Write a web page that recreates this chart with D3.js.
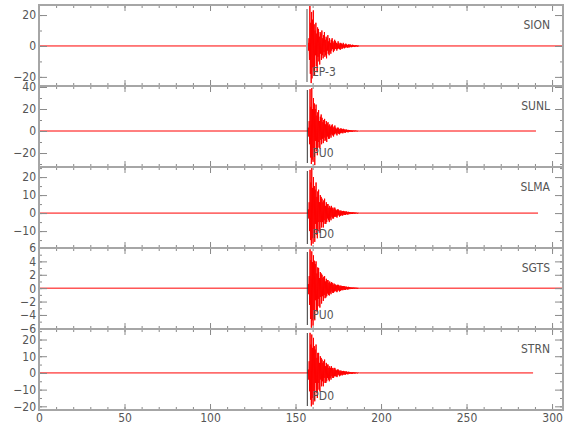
<!DOCTYPE html>
<html>
<head>
<meta charset="utf-8">
<script src="https://cdn.jsdelivr.net/npm/d3@7"></script>
<style>
  body { margin: 0; background: #fff; }
  text { font-family: "Liberation Sans Narrow", "DejaVu Sans Condensed", "Liberation Sans", sans-serif; }
</style>
</head>
<body>
<div id="chart"></div>
<script>
////////////////////////////////////////////////////////////
///////////////////////// Data /////////////////////////////
////////////////////////////////////////////////////////////

var stations = ["SION", "SUNL", "SLMA", "SGTS", "STRN"];
var pickNames = ["EP-3", "PU0", "PD0", "PU0", "PD0"];
var pickTimes = [156.7, 156.9, 156.9, 156.9, 156.9];
var onsets = [157.4, 157.5, 157.5, 157.5, 157.5];
var traceEnds = [306.4, 290.6, 291.8, 306.4, 288.9];
var yMins = [-25.9, -32.7, -19.4, -6.1, -22.2];
var yMaxs = [26.5, 40.9, 25.6, 6.0, 26.3];
var yMajorSteps = [20, 20, 10, 2, 10];
var yMinorSteps = [10, 10, 5, 1, 5];
var xMajorTicks = [0, 50, 100, 150, 200, 250, 300];
var xMax = 306.4;
var sampleDt = 0.25;

// Samples after the onset (one every 0.25 s)
var sionAmp = [2, -3, 5, -9, 26, -18, 15, -24, 22, -21, 17, -14, 23, -16, 14, -19,
    10, -6, 15, -13, 8, -17, 12, -7, 11, -10, 6, -12, 9, -5, 8, -9,
    10, -6, 5, -8, 7, -4, 9, -7, 4, -6, 6, -8, 5, -3, 7, -5,
    3, -6, 5, -4, 2, -5, 4, -3, 5, -2, 3, -4, 2, -3, 4, -2,
    3, -2, 2, -3, 1.5, -2, 3, -1.5, 2, -2, 1, -2.5, 2, -1, 1.5, -2,
    1, -1.5, 2, -1, 1, -1.5, 0.8, -1, 1.5, -0.8, 1, -1, 0.6, -1.2, 1, -0.7, 0.8, -0.9, 1, -0.5,
    0.7, -0.8, 0.5, -0.7, 0.8, -0.4, 0.6, -0.6, 0.4, -0.7, 0.5, -0.4, 0.6, -0.3, 0.4, -0.5, 0.3, -0.4, 0.3, -0.2];
var sunlAmp = [3, -5, 9, -12, 38, -24, 22, -30, 39, -26, 20, -28, 30, -17, 25, -31,
    20, -9, 24, -18, 14, -22, 17, -10, 19, -15, 9, -16, 13, -8, 15, -12,
    12, -7, 8, -11, 10, -6, 11, -9, 6, -8, 9, -10, 7, -5, 8, -7,
    5, -7, 6, -4, 4, -6, 5, -3, 6, -4, 3, -5, 4, -3, 5, -2,
    3, -3, 2, -4, 3, -2, 3, -2.5, 2, -3, 1.5, -2, 2.5, -1.5, 2, -2,
    1.5, -2, 2, -1, 1.5, -1.5, 1, -1.5, 1.5, -0.8, 1.2, -1, 0.8, -1.2, 1, -0.6, 0.9, -0.8, 0.7, -0.6,
    0.8, -0.6, 0.5, -0.7, 0.6, -0.4, 0.5, -0.5, 0.4, -0.5, 0.5, -0.3, 0.4, -0.4, 0.3, -0.4, 0.3, -0.3, 0.2, -0.2];
var slmaAmp = [2, -3, 6, -10, 24, -15, 17, -18, 25, -14, 14, -17, 20, -11, 15, -16,
    13, -6, 17, -12, 9, -14, 12, -5, 13, -10, 6, -11, 10, -5, 9, -8,
    8, -5, 6, -8, 7, -4, 8, -6, 4, -6, 6, -5, 5, -3, 5, -4,
    3, -5, 4, -3, 3, -4, 4, -2, 3, -3, 2, -3, 3, -2, 3, -2,
    2, -2, 1.5, -2.5, 2, -1.5, 2, -1, 1.5, -2, 1, -1.5, 1.5, -1, 1, -1.5,
    1, -1.2, 1.2, -0.8, 1, -1, 0.7, -1, 1, -0.6, 0.8, -0.8, 0.5, -0.8, 0.7, -0.5, 0.6, -0.6, 0.5, -0.4,
    0.5, -0.5, 0.4, -0.5, 0.5, -0.3, 0.4, -0.4, 0.3, -0.4, 0.3, -0.3, 0.3, -0.2, 0.2, -0.3, 0.2, -0.2, 0.2, -0.1];
var sgtsAmp = [0.6, -0.9, 1.8, -2.5, 5.8, -4.6, 4.2, -5.9, 5.5, -4.8, 3.9, -5.6, 4.9, -3.4, 4.1, -4.8,
    3.6, -1.8, 4.0, -3.3, 2.2, -3.6, 3.1, -1.6, 3.0, -2.7, 1.5, -2.9, 2.4, -1.3, 2.2, -2.3,
    2.0, -1.2, 1.5, -1.9, 1.7, -1.0, 1.8, -1.5, 1.0, -1.4, 1.4, -1.2, 1.2, -0.8, 1.2, -1.0,
    0.8, -1.1, 1.0, -0.7, 0.7, -0.9, 0.9, -0.5, 0.8, -0.7, 0.5, -0.7, 0.7, -0.5, 0.6, -0.4,
    0.5, -0.5, 0.4, -0.6, 0.5, -0.4, 0.5, -0.3, 0.4, -0.5, 0.3, -0.4, 0.4, -0.3, 0.3, -0.3,
    0.3, -0.3, 0.3, -0.2, 0.3, -0.25, 0.2, -0.25, 0.25, -0.15, 0.2, -0.2, 0.15, -0.2, 0.2, -0.12, 0.15, -0.15, 0.12, -0.1,
    0.12, -0.12, 0.1, -0.12, 0.1, -0.08, 0.1, -0.1, 0.08, -0.1, 0.08, -0.06, 0.08, -0.08, 0.06, -0.08, 0.06, -0.05, 0.05, -0.04];
var strnAmp = [2, -4, 7, -11, 24, -16, 17, -20, 23, -15, 15, -19, 21, -12, 16, -17,
    14, -6, 17, -12, 9, -15, 12, -6, 12, -10, 6, -11, 10, -4, 9, -8,
    8, -5, 6, -8, 7, -3, 8, -6, 4, -6, 6, -5, 5, -3, 5, -4,
    3, -5, 4, -3, 3, -4, 4, -2, 3, -3, 2, -3, 3, -2, 3, -2,
    2, -2, 1.5, -2.5, 2, -1.5, 2, -1, 1.5, -2, 1, -1.5, 1.5, -1, 1, -1.5,
    1, -1.2, 1.2, -0.8, 1, -1, 0.7, -1, 1, -0.6, 0.8, -0.8, 0.5, -0.8, 0.7, -0.5, 0.6, -0.6, 0.5, -0.4,
    0.5, -0.5, 0.4, -0.5, 0.5, -0.3, 0.4, -0.4, 0.3, -0.4, 0.3, -0.3, 0.3, -0.2, 0.2, -0.3, 0.2, -0.2, 0.2, -0.1];
var amplitudes = [sionAmp, sunlAmp, slmaAmp, sgtsAmp, strnAmp];

////////////////////////////////////////////////////////////
//////////////////////// Set-up ////////////////////////////
////////////////////////////////////////////////////////////

var margin = { left: 39, top: 5, right: 17, bottom: 30 },
    width = 580 - margin.left - margin.right,
    panelH = 81;

var svg = d3.select("#chart").append("svg")
    .attr("width", 580)
    .attr("height", 440);

var x = d3.scaleLinear().domain([0, xMax]).range([margin.left, margin.left + width]);
var xMinorTicks = d3.range(0, xMax, 10);

var frameColor = "#a6a6a6",
    tickColor = "#8a8a8a",
    textColor = "#555";

//Strip the default domain path and restyle an axis
function styleAxis(g, fontSize) {
    g.select(".domain").remove();
    g.attr("color", tickColor).attr("font-family", null).attr("font-size", fontSize);
    g.selectAll("text").attr("fill", textColor);
}

////////////////////////////////////////////////////////////
/////////////////////// Panels /////////////////////////////
////////////////////////////////////////////////////////////

stations.forEach(function (name, i) {
    var top = margin.top + i * panelH,
        bottom = top + panelH;

    var y = d3.scaleLinear().domain([yMins[i], yMaxs[i]]).range([bottom, top]);

    var majors = d3.range(Math.ceil(yMins[i] / yMajorSteps[i]) * yMajorSteps[i], yMaxs[i] + 1e-9, yMajorSteps[i]);
    var minors = d3.range(Math.ceil(yMins[i] / yMinorSteps[i]) * yMinorSteps[i], yMaxs[i] + 1e-9, yMinorSteps[i]);

    var g = svg.append("g").attr("class", "panel");

    //The trace: flat before the onset, the recorded samples, flat to the end
    var pts = [[0, 0], [onsets[i], 0]];
    amplitudes[i].forEach(function (v, k) { pts.push([onsets[i] + k * sampleDt, v]); });
    pts.push([onsets[i] + amplitudes[i].length * sampleDt, 0]);
    pts.push([traceEnds[i], 0]);

    var line = d3.line()
        .x(function (d) { return x(d[0]); })
        .y(function (d) { return y(d[1]); });

    g.append("path")
        .attr("d", line(pts))
        .style("fill", "none")
        .style("stroke", "#ff0000")
        .style("stroke-width", 1);

    //Pick marker
    g.append("line")
        .attr("x1", x(pickTimes[i])).attr("x2", x(pickTimes[i]))
        .attr("y1", top + 4).attr("y2", bottom - 4)
        .style("stroke", i === 0 ? "#a8a8a8" : "#333")
        .style("stroke-width", i === 0 ? 2 : 1);

    g.append("text")
        .attr("x", x(pickTimes[i]) + 5)
        .attr("y", top + 71)
        .attr("font-size", 12)
        .style("fill", textColor)
        .text(pickNames[i]);

    //Station name
    g.append("text")
        .attr("x", 550)
        .attr("y", top + 24)
        .attr("font-size", 12)
        .style("text-anchor", "end")
        .style("fill", textColor)
        .text(name);

    //Left axis
    g.append("g")
        .attr("transform", "translate(" + margin.left + ",0)")
        .call(d3.axisLeft(y).tickValues(minors).tickSize(-3).tickFormat(""))
        .call(styleAxis, 12);
    g.append("g")
        .attr("transform", "translate(" + margin.left + ",0)")
        .call(d3.axisLeft(y).tickValues(majors).tickSize(-8).tickPadding(3))
        .call(styleAxis, 12);

    //Right axis
    g.append("g")
        .attr("transform", "translate(" + (margin.left + width) + ",0)")
        .call(d3.axisRight(y).tickValues(minors).tickSize(-3).tickFormat(""))
        .call(styleAxis, 12);
    g.append("g")
        .attr("transform", "translate(" + (margin.left + width) + ",0)")
        .call(d3.axisRight(y).tickValues(majors).tickSize(-8).tickFormat(""))
        .call(styleAxis, 12);

    //Top and bottom time ticks
    g.append("g")
        .attr("transform", "translate(0," + top + ")")
        .call(d3.axisTop(x).tickValues(xMinorTicks).tickSize(-3).tickFormat(""))
        .call(styleAxis, 12);
    g.append("g")
        .attr("transform", "translate(0," + top + ")")
        .call(d3.axisTop(x).tickValues(xMajorTicks).tickSize(-6).tickFormat(""))
        .call(styleAxis, 12);
    g.append("g")
        .attr("transform", "translate(0," + bottom + ")")
        .call(d3.axisBottom(x).tickValues(xMinorTicks).tickSize(-3).tickFormat(""))
        .call(styleAxis, 12);
    g.append("g")
        .attr("transform", "translate(0," + bottom + ")")
        .call(d3.axisBottom(x).tickValues(xMajorTicks).tickSize(-6).tickPadding(3)
            .tickFormat(i === stations.length - 1 ? d3.format("d") : ""))
        .call(styleAxis, 12);

    //Frame
    g.append("rect")
        .attr("x", margin.left).attr("y", top)
        .attr("width", width).attr("height", panelH)
        .style("fill", "none")
        .style("stroke", frameColor)
        .style("stroke-width", 2);
});
</script>
</body>
</html>
